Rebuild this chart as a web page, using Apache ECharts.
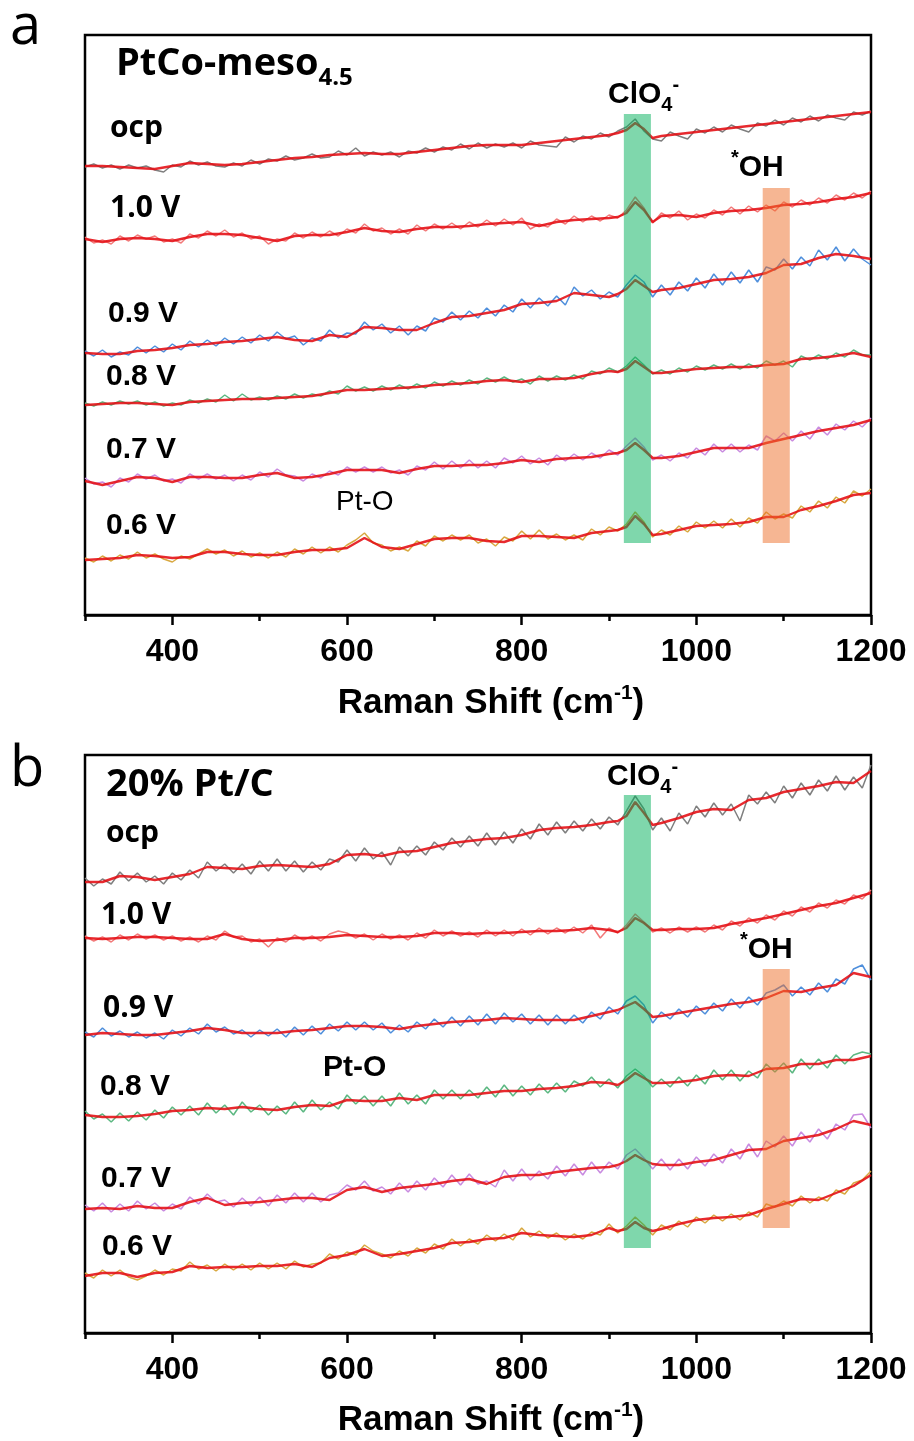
<!DOCTYPE html>
<html>
<head>
<meta charset="utf-8">
<script src="https://cdn.jsdelivr.net/npm/echarts@6/dist/echarts.min.js"></script>
<style>
html,body{margin:0;padding:0;background:#fff;}
#chart{width:914px;height:1441px;}
</style>
</head>
<body>
<div id="chart"></div>
<script>
// ---------- DATA ----------
const RAW_X = [300,310,320,330,340,350,360,370,380,390,400,410,420,430,440,450,460,470,480,490,500,510,520,530,540,550,560,570,580,590,600,610,620,630,640,650,660,670,680,690,700,710,720,730,740,750,760,770,780,790,800,810,820,830,840,850,860,870,880,890,900,910,920,930,940,950,960,970,980,990,1000,1010,1020,1030,1040,1050,1060,1070,1080,1090,1100,1110,1120,1130,1140,1150,1160,1170,1180,1190,1200];
const FIT_X = [300,320,340,360,380,400,420,440,460,480,500,520,540,560,580,600,620,640,660,680,700,720,740,760,780,800,820,840,860,880,900,910,920,930,940,950,960,980,1000,1020,1040,1060,1080,1100,1120,1140,1160,1180,1200];
const TICKS_MAJOR = [400,600,800,1000,1200];
const TICKS_MINOR = [300,500,700,900,1100];

// Panel a: PtCo-meso4.5 (stacked intensity, a.u.)
const A_OCP_RAW = [448,451,447,450,446,450,447,449,445,443,450,448,454,450,453,449,448,452,449,455,451,456,454,459,455,457,461,457,458,464,460,467,459,463,460,463,458,464,462,467,463,468,465,471,466,472,467,471,468,472,467,474,470,469,468,478,473,479,476,482,478,484,488,496,484,476,474,483,479,476,486,482,488,483,490,486,483,492,489,495,490,497,493,499,494,500,497,495,503,500,504];
const A_OCP_FIT = [449,449,448,447,446,449,452,451,450,451,453,455,457,458,460,461,462,461,461,463,465,467,469,470,470,470,472,474,476,478,480,482,485,492,486,477,479,481,483,485,487,489,491,493,495,497,499,501,503];
const A_10_RAW = [378,372,375,371,379,374,380,376,379,373,376,372,381,377,384,379,385,378,382,376,379,371,376,374,382,377,383,378,384,379,386,382,391,384,387,381,386,381,390,384,391,386,392,386,393,388,395,389,396,390,397,386,391,388,396,391,399,393,399,394,400,397,405,418,407,392,402,397,404,395,401,397,405,400,408,401,409,403,410,404,413,408,415,410,417,412,420,415,422,417,424];
const A_10_FIT = [376,373,376,377,376,374,378,381,381,380,377,374,379,380,380,383,387,384,383,386,388,388,389,391,392,393,389,393,395,396,397,398,402,413,405,393,399,400,398,402,404,405,407,410,411,413,416,418,422];
const A_09_RAW = [264,259,265,258,263,260,268,262,269,263,271,265,274,268,275,269,277,271,278,272,280,274,283,276,279,270,277,274,285,277,282,281,293,285,291,282,289,280,289,284,297,293,303,295,304,297,307,299,310,303,316,307,317,309,319,310,328,319,325,316,323,318,330,340,333,318,330,320,333,324,337,327,341,330,343,332,345,333,348,345,356,346,358,349,365,355,368,354,366,356,350];
const A_09_FIT = [262,261,261,264,265,267,270,271,273,274,276,278,275,274,280,278,288,287,285,285,292,298,299,302,305,311,312,314,322,320,318,321,326,335,329,323,325,327,331,335,336,338,342,350,351,357,361,359,356];
const A_08_RAW = [212,209,213,210,214,211,214,210,213,209,212,210,215,212,216,213,220,214,221,215,218,215,219,216,221,217,221,219,224,221,229,224,228,224,229,225,230,226,231,227,233,229,234,230,235,231,237,233,238,233,236,231,239,234,239,235,240,236,244,241,247,243,249,258,250,241,245,241,247,243,249,245,250,246,251,246,251,247,254,250,254,248,259,255,260,256,262,258,265,260,260];
const A_08_FIT = [210,211,212,212,211,210,213,214,215,216,216,217,218,219,222,225,225,226,227,228,230,231,232,234,235,233,236,236,237,241,244,243,246,254,248,242,242,244,246,247,248,248,250,251,256,257,259,262,258];
const A_07_RAW = [137,131,133,128,137,133,141,136,140,134,136,132,141,136,141,136,140,134,140,135,143,138,146,140,139,134,141,137,144,140,148,143,148,143,148,142,145,140,149,145,153,146,154,147,155,147,154,147,157,152,159,151,157,150,160,154,161,155,162,157,165,160,169,177,168,155,160,154,162,157,167,160,171,163,171,163,170,165,179,174,182,174,184,176,188,180,191,185,194,188,197];
const A_07_FIT = [134,130,134,138,137,133,138,138,137,137,140,142,137,138,141,145,145,145,142,146,149,149,150,150,152,155,153,156,157,158,161,162,165,172,165,157,157,159,163,167,167,167,172,176,180,184,187,190,195];
const A_06_RAW = [57,53,59,54,60,56,63,57,61,56,53,59,56,61,66,61,65,59,64,58,62,57,63,58,66,61,68,62,68,63,70,75,82,72,70,64,68,64,74,69,79,74,80,75,80,72,76,69,78,74,84,76,85,76,81,75,80,75,86,80,88,84,91,103,93,78,85,80,89,83,93,87,94,87,96,88,97,92,103,96,101,97,109,103,114,107,118,112,124,119,126];
const A_06_FIT = [55,56,57,60,59,57,58,63,63,61,60,60,63,65,65,67,77,68,66,71,76,77,77,74,73,79,79,78,77,82,84,85,88,99,91,80,81,85,89,90,91,93,98,98,105,109,114,120,122];

// Panel b: 20% Pt/C
const B_OCP_RAW = [455,447,454,449,461,452,460,451,457,449,460,453,463,455,471,462,469,460,469,459,472,462,474,462,472,461,471,463,474,471,483,472,485,474,481,468,486,477,487,478,491,483,495,486,497,487,500,488,501,490,504,494,509,498,511,500,512,502,514,504,516,508,522,537,524,503,515,502,520,509,527,516,530,518,529,512,538,529,541,530,547,535,550,538,553,542,557,543,556,545,568];
const B_OCP_FIT = [451,451,457,456,453,456,459,466,465,464,467,468,467,466,469,478,479,477,481,482,486,490,492,494,495,498,503,505,506,508,511,512,517,531,520,508,510,515,521,524,523,533,535,541,544,547,551,550,562];
const B_10_RAW = [397,392,396,391,398,393,399,394,398,393,397,392,396,391,397,393,402,396,397,391,394,386,395,391,398,393,397,392,399,402,400,395,399,393,399,394,398,393,400,395,403,397,402,397,401,396,403,397,403,397,404,398,405,399,405,400,406,400,408,395,405,400,408,419,411,401,405,400,406,401,406,401,408,403,412,407,415,410,418,413,422,417,426,421,430,425,433,429,438,434,443];
const B_10_FIT = [395,394,395,396,396,395,394,394,399,394,392,393,395,395,396,398,397,396,396,397,400,400,399,400,400,401,402,402,403,405,403,401,405,415,410,403,403,404,404,405,409,412,415,419,423,427,430,435,440];
const B_09_RAW = [301,296,305,297,302,296,301,295,300,294,303,297,305,299,309,301,306,299,303,296,303,297,304,296,306,298,307,299,309,302,311,303,311,303,310,300,308,301,311,304,314,306,316,307,317,308,319,309,320,311,319,309,318,308,318,309,318,310,321,314,326,319,332,337,328,310,321,314,324,316,327,319,330,322,334,325,336,328,340,343,348,337,346,338,350,341,354,349,364,368,353];
const B_09_FIT = [298,300,299,298,298,300,302,305,303,300,300,300,302,303,305,307,307,306,304,307,309,311,312,313,315,314,313,313,313,317,321,323,327,331,324,316,317,320,323,326,329,331,335,342,341,345,348,360,356];
const B_08_RAW = [222,214,219,211,220,212,221,213,223,215,226,218,227,218,230,220,228,218,231,221,228,218,227,219,231,221,233,223,231,224,238,229,237,227,237,227,240,229,238,229,243,234,243,234,243,235,246,236,248,237,247,238,249,240,250,241,252,247,256,246,254,245,257,264,257,246,254,246,256,247,258,249,263,253,263,252,262,255,269,261,270,260,274,264,274,265,278,269,278,281,279];
const B_08_FIT = [218,216,216,217,219,222,223,225,224,226,224,223,226,228,227,233,232,232,235,233,238,238,238,240,242,242,244,245,247,251,250,248,253,260,255,250,250,251,253,257,258,257,264,265,269,269,273,273,277];
const B_07_RAW = [128,122,130,121,129,122,132,124,130,122,129,124,136,129,139,131,133,126,135,127,136,127,138,130,140,131,140,131,138,140,148,143,152,142,146,139,150,141,152,143,155,146,158,148,159,149,152,146,163,152,164,153,162,154,167,157,169,158,171,160,171,164,178,184,175,164,174,163,174,164,176,167,179,170,184,174,189,176,192,186,197,187,201,191,204,194,209,203,218,219,205];
const B_07_FIT = [124,125,124,127,125,125,131,135,128,130,131,133,135,135,133,143,146,141,145,147,149,152,154,149,156,158,158,161,163,165,166,168,172,178,173,169,168,168,171,173,178,183,184,192,195,198,204,212,208];
const B_06_RAW = [60,55,63,57,63,56,53,57,63,58,64,62,71,64,68,62,69,63,69,63,70,64,70,64,72,66,69,70,79,74,81,78,88,82,79,75,82,77,85,80,89,84,94,87,94,89,98,92,99,93,105,96,102,95,100,93,99,94,101,98,109,100,107,116,108,98,108,103,112,106,116,110,118,112,119,113,121,116,129,126,132,127,137,130,136,132,143,139,150,153,162];
const B_06_FIT = [57,60,60,56,60,61,67,65,66,66,67,67,69,66,75,78,84,77,79,82,85,90,91,94,95,100,98,97,96,98,105,102,104,111,105,102,104,109,113,115,116,118,124,129,134,133,140,147,158];

// Highlighted bands (x in cm-1, y in stacked intensity units)
const CLO4_BAND_X = [917, 948];
const OH_BAND_X = [1076, 1107];
const A_CLO4_BAND_Y = [72, 501];
const A_OH_BAND_Y = [72, 427];
const B_CLO4_BAND_Y = [85, 538];
const B_OH_BAND_Y = [105, 364];

// ---------- CHART ----------
const COLORS = {ocp:'#7f7f7f', v10:'#f27a7a', v09:'#4f8fdc', v08:'#5cb882', v07:'#c98be0', v06:'#d8a840'};
const FIT_COLOR = 'rgba(228,12,18,0.88)';
const BAND_COLORS = ['rgba(0,175,90,0.5)', 'rgba(238,110,40,0.5)'];
const panels = [
  {idx:0, ymax:580, traces:[
    [A_OCP_RAW,A_OCP_FIT,COLORS.ocp],[A_10_RAW,A_10_FIT,COLORS.v10],[A_09_RAW,A_09_FIT,COLORS.v09],
    [A_08_RAW,A_08_FIT,COLORS.v08],[A_07_RAW,A_07_FIT,COLORS.v07],[A_06_RAW,A_06_FIT,COLORS.v06]],
    clo4Y:A_CLO4_BAND_Y, ohY:A_OH_BAND_Y},
  {idx:1, ymax:578, traces:[
    [B_OCP_RAW,B_OCP_FIT,COLORS.ocp],[B_10_RAW,B_10_FIT,COLORS.v10],[B_09_RAW,B_09_FIT,COLORS.v09],
    [B_08_RAW,B_08_FIT,COLORS.v08],[B_07_RAW,B_07_FIT,COLORS.v07],[B_06_RAW,B_06_FIT,COLORS.v06]],
    clo4Y:B_CLO4_BAND_Y, ohY:B_OH_BAND_Y}
];
function pairs(xs, ys){ return xs.map((x,i)=>[x, ys[i]]); }

const grids = [
  {left:85, top:35, width:786, height:580},
  {left:85, top:755, width:786, height:578}
].map(g => Object.assign(g, {show:true, borderColor:'#000', borderWidth:2.5, backgroundColor:'transparent'}));

const xAxes = [], yAxes = [], series = [];
panels.forEach(p => {
  xAxes.push({
    gridIndex:p.idx, type:'value', min:300, max:1200, position:'bottom',
    axisLine:{show:true, onZero:false, lineStyle:{color:'#000', width:2.5}},
    axisTick:{show:true, inside:false, length:10, customValues:TICKS_MAJOR, lineStyle:{color:'#000', width:2.5}},
    axisLabel:{show:true, customValues:TICKS_MAJOR, margin:21, color:'#000', fontSize:32, fontWeight:'bold',
      fontFamily:'"Liberation Sans", Arial, sans-serif', formatter:v => String(v)},
    splitLine:{show:false}
  });
  xAxes.push({
    gridIndex:p.idx, type:'value', min:300, max:1200, position:'bottom',
    axisLine:{show:false, onZero:false},
    axisTick:{show:true, inside:false, length:6, customValues:TICKS_MINOR, lineStyle:{color:'#000', width:2.5}},
    axisLabel:{show:false}, splitLine:{show:false}
  });
  yAxes.push({gridIndex:p.idx, type:'value', min:0, max:p.ymax, show:false, splitLine:{show:false}});
  const xi = p.idx*2;
  p.traces.forEach(t => {
    series.push({type:'line', xAxisIndex:xi, yAxisIndex:p.idx, data:pairs(RAW_X, t[0]), showSymbol:false, symbol:'none',
      lineStyle:{color:t[2], width:1.5}, z:2, silent:true, animation:false});
    series.push({type:'line', xAxisIndex:xi, yAxisIndex:p.idx, data:pairs(FIT_X, t[1]), showSymbol:false, symbol:'none',
      lineStyle:{color:FIT_COLOR, width:2.4}, z:3, silent:true, animation:false});
  });
  // translucent highlight bands drawn above the spectra
  series.push({type:'custom', xAxisIndex:xi, yAxisIndex:p.idx, z:10, silent:true, animation:false, clip:false,
    encode:{x:[0,1], y:[2,3]},
    data:[
      [CLO4_BAND_X[0], CLO4_BAND_X[1], p.clo4Y[0], p.clo4Y[1], 0],
      [OH_BAND_X[0], OH_BAND_X[1], p.ohY[0], p.ohY[1], 1]
    ],
    renderItem:(params, api) => {
      const a = api.coord([api.value(0), api.value(3)]);
      const b = api.coord([api.value(1), api.value(2)]);
      return {type:'rect', shape:{x:a[0], y:a[1], width:b[0]-a[0], height:b[1]-a[1]},
        style:{fill:BAND_COLORS[api.value(4)]}};
    }});
});

const ARIAL = '"Liberation Sans", Arial, sans-serif';
const OPEN = '"Open Sans", sans-serif';
function txt(x, y, text, font, extra){
  return Object.assign({type:'text', x:x, y:y, z:100, silent:true,
    style:Object.assign({text:text, font:font, fill:'#000', align:'left', verticalAlign:'middle', textAlign:'left', textVerticalAlign:'middle'}, extra||{})});
}
function richTxt(x, y, text, rich, align){
  return {type:'text', x:x, y:y, z:100, silent:true,
    style:{text:text, rich:rich, fill:'#000', align:align||'left', verticalAlign:'middle', textAlign:align||'left', textVerticalAlign:'middle'}};
}
const clo4Rich = {
  m:{fontSize:30, fontWeight:'bold', fontFamily:ARIAL, lineHeight:40, fill:'#000'},
  b:{fontSize:20, fontWeight:'bold', fontFamily:ARIAL, lineHeight:20, verticalAlign:'bottom', fill:'#000'},
  t:{fontSize:20, fontWeight:'bold', fontFamily:ARIAL, lineHeight:20, verticalAlign:'top', fill:'#000'}
};
const ohRich = {
  s:{fontSize:20, fontWeight:'bold', fontFamily:ARIAL, lineHeight:20, verticalAlign:'top', fill:'#000'},
  m:{fontSize:30, fontWeight:'bold', fontFamily:ARIAL, lineHeight:40, fill:'#000'}
};
const titleRich = {
  m:{fontSize:38, fontWeight:'bold', fontFamily:OPEN, lineHeight:52, fill:'#000'},
  b:{fontSize:24, fontWeight:'bold', fontFamily:OPEN, lineHeight:24, verticalAlign:'bottom', fill:'#000'}
};
const axisRich = {
  m:{fontSize:35, fontWeight:'bold', fontFamily:ARIAL, lineHeight:40, fill:'#000'},
  s:{fontSize:21, fontWeight:'bold', fontFamily:ARIAL, lineHeight:21, verticalAlign:'top', fill:'#000'}
};

const graphics = [
  txt(10, 28, 'a', '56px ' + OPEN),
  txt(10, 770, 'b', '56px ' + OPEN),
  // panel a
  richTxt(116, 64, '{m|PtCo-meso}{b|4.5}', titleRich),
  txt(110, 128, 'ocp', 'bold 30px ' + OPEN),
  txt(110, 208, '1.0 V', 'bold 30px ' + OPEN),
  txt(108, 314, '0.9 V', 'bold 30px ' + ARIAL),
  txt(106, 377, '0.8 V', 'bold 30px ' + ARIAL),
  txt(106, 450, '0.7 V', 'bold 30px ' + ARIAL),
  txt(106, 526, '0.6 V', 'bold 30px ' + ARIAL),
  txt(336, 502, 'Pt-O', '28px ' + ARIAL),
  richTxt(608, 95, '{m|ClO}{b|4}{t|-}', clo4Rich),
  richTxt(731, 168, '{s|*}{m|OH}', ohRich),
  richTxt(491, 703, '{m|Raman Shift (cm}{s|-1}{m|)}', axisRich, 'center'),
  // panel b
  txt(106, 785, '20% Pt/C', 'bold 38px ' + OPEN),
  txt(106, 833, 'ocp', 'bold 30px ' + OPEN),
  txt(101, 915, '1.0 V', 'bold 30px ' + OPEN),
  txt(103, 1008, '0.9 V', 'bold 30px ' + OPEN),
  txt(323, 1068, 'Pt-O', 'bold 30px ' + ARIAL),
  txt(100, 1087, '0.8 V', 'bold 30px ' + ARIAL),
  txt(101, 1179, '0.7 V', 'bold 30px ' + ARIAL),
  txt(102, 1247, '0.6 V', 'bold 30px ' + ARIAL),
  richTxt(607, 777, '{m|ClO}{b|4}{t|-}', clo4Rich),
  richTxt(740, 950, '{s|*}{m|OH}', ohRich),
  richTxt(491, 1420, '{m|Raman Shift (cm}{s|-1}{m|)}', axisRich, 'center')
];

const chart = echarts.init(document.getElementById('chart'), null, {renderer:'canvas', width:914, height:1441});
chart.setOption({
  animation:false,
  backgroundColor:'#fff',
  grid:grids,
  xAxis:xAxes,
  yAxis:yAxes,
  series:series,
  graphic:graphics
});
</script>
</body>
</html>
